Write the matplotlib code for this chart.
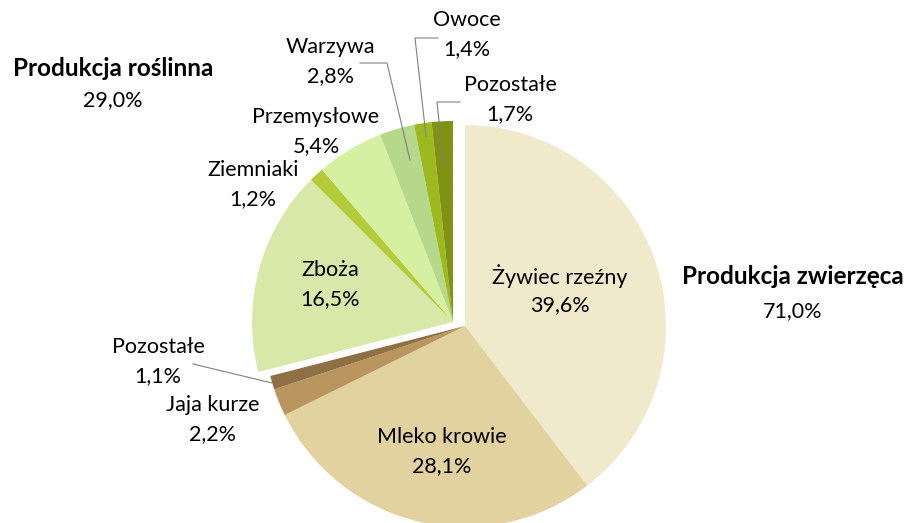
import matplotlib.pyplot as plt

# ----------------------------------------------------
# Data (shares of agricultural production, %)
# ----------------------------------------------------

animal_labels = ["Żywiec rzeźny", "Mleko krowie", "Jaja kurze", "Pozostałe"]
animal_values = [39.6, 28.1, 2.2, 1.1]
animal_colors = ["#F1E9CC", "#E2D2A0", "#B8965E", "#8E7044"]

plant_labels = ["Zboża", "Ziemniaki", "Przemysłowe", "Warzywa", "Owoce", "Pozostałe"]
plant_values = [16.5, 1.2, 5.4, 2.8, 1.4, 1.7]
plant_colors = ["#D8E8A8", "#B5CC3A", "#D4F0A0", "#B6D88A", "#9EB820", "#7F9212"]

group_labels = ["Produkcja zwierzęca", "Produkcja roślinna"]
group_values = [71.0, 29.0]

plt.rcParams["font.family"] = ["Lato", "DejaVu Sans"]

W, H = 910, 523
fig = plt.figure(figsize=(W / 100, H / 100), dpi=100)
ax = fig.add_axes([0, 0, 1, 1])


def fmt(v):
    return f"{v:.1f}%".replace(".", ",")


def Y(y):
    # image pixel row -> data y
    return H - y


radius = 201
center = (465, Y(326))
plant_center = (453, Y(322))

# animal part, clockwise from 12 o'clock
ax.pie(
    animal_values + [sum(plant_values)],
    colors=animal_colors + ["none"],
    startangle=90,
    counterclock=False,
    radius=radius,
    center=center,
    frame=True,
)

# plant part, pulled out as one group
start = 90 - 360 * sum(animal_values) / 100
ax.pie(
    plant_values + [sum(animal_values)],
    colors=plant_colors + ["none"],
    startangle=start,
    counterclock=False,
    radius=radius,
    center=plant_center,
    frame=True,
)
ax.set_xlim(0, W)
ax.set_ylim(0, H)
ax.set_aspect("equal")
ax.axis("off")

fs = 15.5
fs_bold = 17.5

# ----------------------------------------------------
# Labels
# ----------------------------------------------------

label_pos = {
    "Żywiec rzeźny": (560, 276),
    "Mleko krowie": (442, 437),
    "Jaja kurze": (213, 405),
    "Pozostałe_a": (158, 347),
    "Zboża": (330, 270),
    "Ziemniaki": (253, 170),
    "Przemysłowe": (316, 117),
    "Warzywa": (330, 47),
    "Owoce": (467, 20),
    "Pozostałe_p": (510, 85),
}

keys_a = ["Żywiec rzeźny", "Mleko krowie", "Jaja kurze", "Pozostałe_a"]
keys_p = ["Zboża", "Ziemniaki", "Przemysłowe", "Warzywa", "Owoce", "Pozostałe_p"]

for key, name, v in zip(keys_a + keys_p,
                        animal_labels + plant_labels,
                        animal_values + plant_values):
    x, y = label_pos[key]
    ax.text(x, Y(y), name, ha="center", va="center", fontsize=fs)
    ax.text(x, Y(y + 29), fmt(v), ha="center", va="center", fontsize=fs)

# leader lines
lc = "#808080"
ax.plot([193, 272], [Y(364), Y(383)], color=lc, lw=0.8)
ax.plot([360, 387, 410], [Y(63), Y(63), Y(160)], color=lc, lw=0.8)
ax.plot([438, 415, 426], [Y(38), Y(38), Y(136)], color=lc, lw=0.8)
ax.plot([460, 437, 444], [Y(102), Y(102), Y(168)], color=lc, lw=0.8)

# group titles
ax.text(793, Y(276), group_labels[0], ha="center", va="center",
        fontsize=fs_bold, fontweight="bold")
ax.text(793, Y(311), fmt(group_values[0]), ha="center", va="center", fontsize=fs)
ax.text(113, Y(68), group_labels[1], ha="center", va="center",
        fontsize=fs_bold, fontweight="bold")
ax.text(113, Y(100), fmt(group_values[1]), ha="center", va="center", fontsize=fs)

fig.savefig("out.png", dpi=100)
